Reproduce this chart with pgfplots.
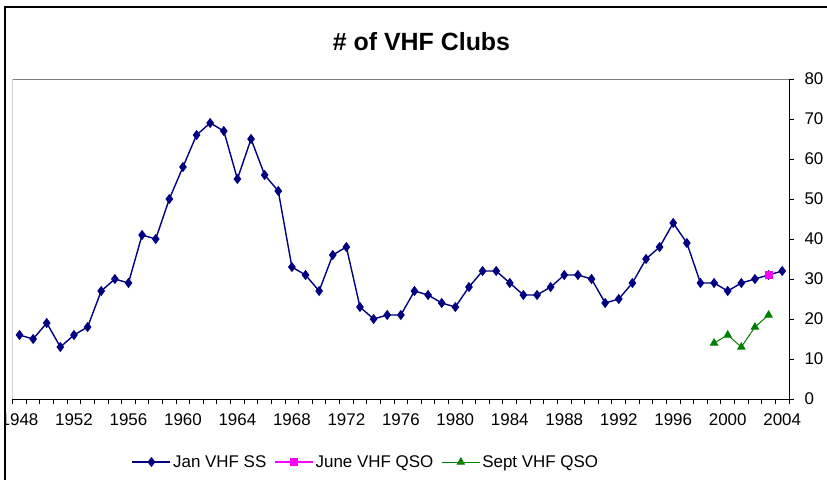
\documentclass[border=0pt]{standalone}
\usepackage{pgfplots}
\pgfplotsset{compat=1.18}
\usepackage{fontspec}
\setmainfont{Liberation Sans}
\definecolor{navyc}{RGB}{0,0,128}
\definecolor{magc}{RGB}{255,0,255}
\definecolor{greenc}{RGB}{0,128,0}
\begin{document}
\begin{tikzpicture}
\useasboundingbox (0,0) rectangle (827bp,480bp);
\fill[white] (0,0) rectangle (827bp,480bp);
\begin{scope}
\clip (5.75bp,0) rectangle (827bp,472.25bp);
\begin{axis}[
  at={(12.7bp,81bp)}, anchor=south west,
  scale only axis, width=776.3bp, height=320bp,
  xmin=1947.5, xmax=2004.5, ymin=0, ymax=80,
  axis x line*=bottom, axis y line*=right,
  axis line style={black, line width=1bp},
  tick align=outside,
  xtick={1947.5,1948.5,...,2004.5}, xticklabels={},
  extra x ticks={1948,1952,1956,1960,1964,1968,1972,1976,1980,1984,1988,1992,1996,2000,2004},
  extra x tick labels={1948,1952,1956,1960,1964,1968,1972,1976,1980,1984,1988,1992,1996,2000,2004},
  extra x tick style={major tick length=0pt},
  xticklabel style={yshift=-11bp},
  yticklabel style={xshift=7bp},
  ytick={0,10,...,80},
  major tick length=5bp,
  tick style={black, line width=1bp},
  ticklabel style={font=\fontsize{17}{20}\selectfont},
  /pgf/number format/assume math mode=true,
  /pgf/number format/1000 sep={},
  legend columns=3,
  legend style={at={(0.455,-0.197)}, anchor=center, draw=none, fill=none,
    font=\fontsize{17}{20}\selectfont,
    /tikz/every even column/.append style={column sep=6bp}},
  legend image code/.code={\draw[mark repeat=2,mark phase=2] plot coordinates {(0bp,0bp) (19bp,0bp) (38bp,0bp)};},
]
\draw[gray, line width=1bp] (rel axis cs:0,0) -- (rel axis cs:0,1) -- (rel axis cs:1,1);
\addplot[navyc, line width=1.4bp, mark=diamond*, mark size=4bp, mark options={solid, fill=navyc}] coordinates {
(1948,16) (1949,15) (1950,19) (1951,13) (1952,16) (1953,18) (1954,27) (1955,30) (1956,29) (1957,41)
(1958,40) (1959,50) (1960,58) (1961,66) (1962,69) (1963,67) (1964,55) (1965,65) (1966,56) (1967,52)
(1968,33) (1969,31) (1970,27) (1971,36) (1972,38) (1973,23) (1974,20) (1975,21) (1976,21) (1977,27)
(1978,26) (1979,24) (1980,23) (1981,28) (1982,32) (1983,32) (1984,29) (1985,26) (1986,26) (1987,28)
(1988,31) (1989,31) (1990,30) (1991,24) (1992,25) (1993,29) (1994,35) (1995,38) (1996,44) (1997,39)
(1998,29) (1999,29) (2000,27) (2001,29) (2002,30) (2003,31) (2004,32)
};
\addlegendentry{Jan VHF SS}
\addplot[magc, line width=1.4bp, mark=square*, mark size=3.3bp, mark options={solid, fill=magc}] coordinates {
(2003,31)
};
\addlegendentry{June VHF QSO}
\addplot[greenc, line width=1bp, mark=triangle*, mark size=4bp, mark options={solid, fill=greenc}] coordinates {
(1999,14) (2000,16) (2001,13) (2002,18) (2003,21)
};
\addlegendentry{Sept VHF QSO}
\end{axis}
\end{scope}
\draw[black, line width=1.5bp] (5bp,0) -- (5bp,473bp) -- (827bp,473bp);
\node[font=\bfseries\fontsize{25}{29}\selectfont] at (421.5bp,438bp) {\# of VHF Clubs};
\end{tikzpicture}
\end{document}
